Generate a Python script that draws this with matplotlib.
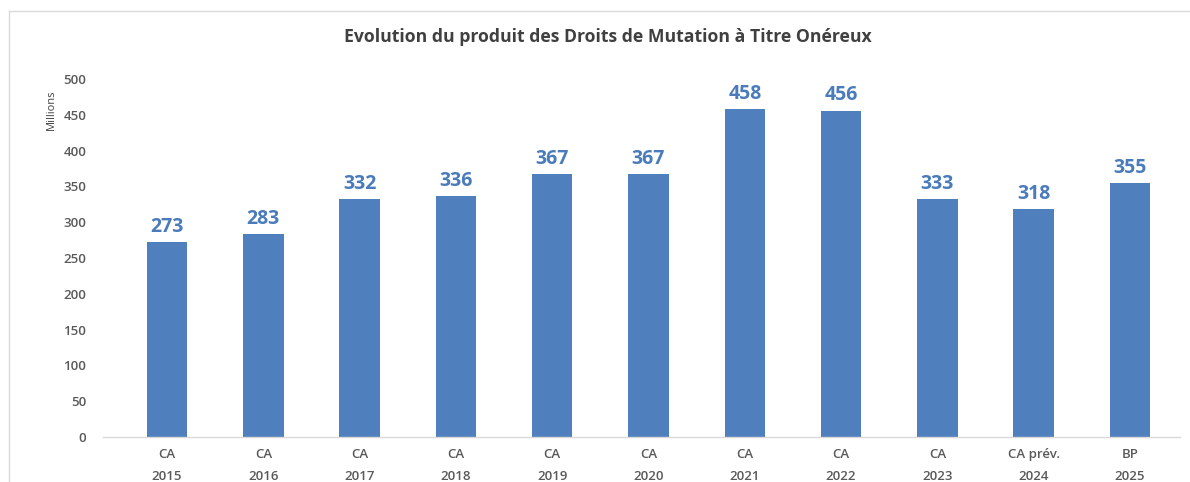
import matplotlib
matplotlib.use("Agg")
from matplotlib import pyplot as plt
from matplotlib.lines import Line2D

# -- Data ---------------------------------------------------------------
categories = ["CA\n2015", "CA\n2016", "CA\n2017", "CA\n2018", "CA\n2019", "CA\n2020",
              "CA\n2021", "CA\n2022", "CA\n2023", "CA prév.\n2024", "BP\n2025"]
values = [273, 283, 332, 336, 367, 367, 458, 456, 333, 318, 355]
yticks = [0, 50, 100, 150, 200, 250, 300, 350, 400, 450, 500]

bar_color = "#4F7FBD"
label_color = "#4A7BBB"
text_gray = "#595959"

plt.rcParams["font.family"] = ["Open Sans", "DejaVu Sans"]

fig = plt.figure(figsize=(11.9, 4.82), dpi=100)
ax = fig.add_axes([103 / 1190, 45 / 482, 1077 / 1190, 358 / 482])

x = range(len(categories))
bars = ax.bar(x, values, width=0.42, color=bar_color, zorder=2)

for xi, v in zip(x, values):
    ax.text(xi, v + 7, str(v), ha="center", va="bottom", color=label_color,
            fontsize=14, fontweight="bold")

ax.set_xlim(-0.665, 10.52)
ax.set_ylim(0, 500)
ax.set_yticks(yticks)
ax.set_xticks(list(x))
ax.set_xticklabels(categories, fontsize=9.5, color=text_gray, fontweight="semibold",
                   linespacing=1.85)
ax.tick_params(axis="y", labelsize=9.5, labelcolor=text_gray, length=0, pad=12)
ax.tick_params(axis="x", length=0, pad=8)
for lbl in ax.get_yticklabels():
    lbl.set_fontweight("semibold")

for side in ["top", "right", "left"]:
    ax.spines[side].set_visible(False)
ax.spines["bottom"].set_color("#D9D9D9")
ax.spines["bottom"].set_linewidth(1.0)

fig.text(608 / 1190, 1 - 37 / 482, "Evolution du produit des Droits de Mutation à Titre Onéreux",
         ha="center", va="center", fontsize=12.7, fontweight="bold", color="#404040")
fig.text(51 / 1190, 1 - 110 / 482, "Millions", rotation=90, ha="center", va="center",
         fontsize=8, color="#404040")

# chart frame (Excel-style border, partly cropped)
fig.add_artist(Line2D([9 / 1190, 9 / 1190], [0, 1 - 11 / 482], color="#D9D9D9", lw=1))
fig.add_artist(Line2D([9 / 1190, 1], [1 - 11 / 482, 1 - 11 / 482], color="#D9D9D9", lw=1))

fig.savefig("out.png", dpi=100)
